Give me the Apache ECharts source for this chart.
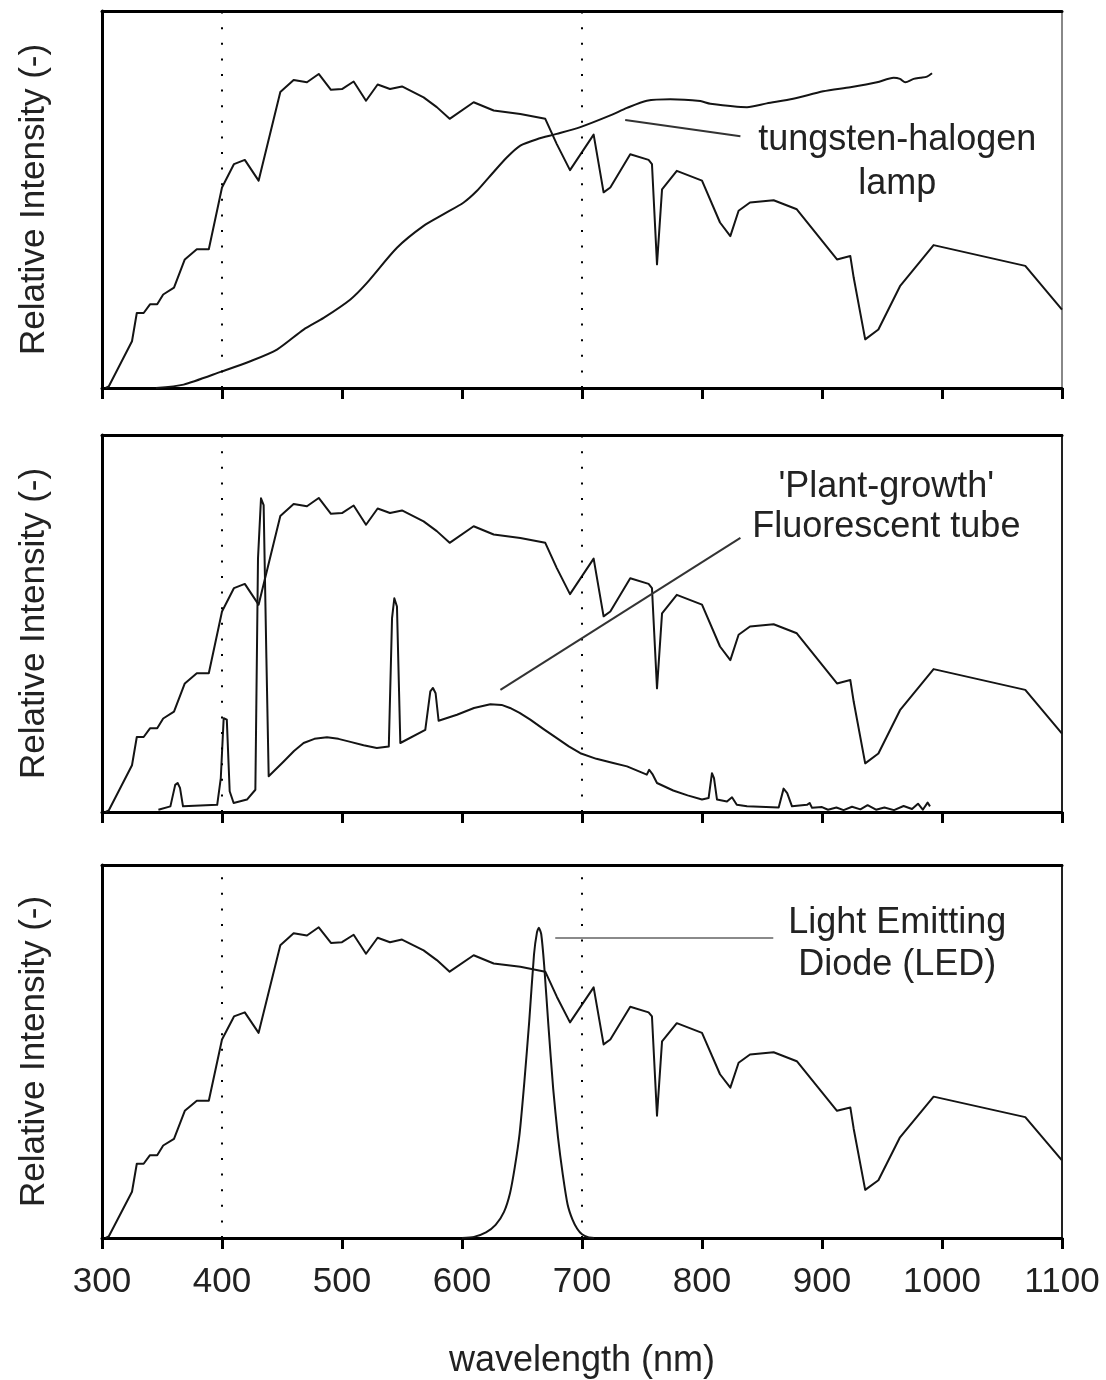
<!DOCTYPE html>
<html>
<head>
<meta charset="utf-8">
<script src="https://cdn.jsdelivr.net/npm/echarts@6/dist/echarts.min.js"></script>
<style>
  html, body { margin: 0; padding: 0; background: #fff; }
  #chart { width: 1106px; height: 1380px; }
</style>
</head>
<body>
<div id="chart"></div>
<script>
// Wavelength axis (nm)
const wlMin = 300;
const wlMax = 1100;
const wlStep = 100;

// Reference lines bounding the PAR band (nm)
const parBounds = [400, 700];

// Solar spectrum at ground level, relative intensity [nm, value]
const solarSpectrum = [
  [303, 0], [305.6, 0.4], [325, 12.4], [329, 19.9], [334.7, 19.9], [340, 22.2], [346, 22.2],
  [351, 24.8], [360, 26.6], [369, 34.1], [379, 36.8], [389, 36.8], [400, 53.2], [410, 59.4],
  [419, 60.5], [430.5, 55], [448.6, 78.5], [459.7, 81.7], [470.8, 81.1], [480.6, 83.3],
  [490.8, 79.1], [500, 79.3], [509.7, 81.3], [520, 76.2], [529.7, 80.5], [540, 79.3],
  [550, 80], [568, 77.1], [579, 74.5], [589.7, 71.4], [609.7, 75.8], [626.4, 73.6],
  [648.6, 72.7], [669.4, 71.4], [679, 64.7], [690, 57.8], [709.7, 67.2], [718, 51.9],
  [723.6, 53.2], [740.2, 62], [755.5, 60.5], [758.3, 59.4], [762.5, 32.8], [766.7, 52.7],
  [779, 57.6], [800, 55], [815, 43.9], [823.6, 40.3], [830.5, 47], [840, 49.2],
  [859.7, 49.8], [879, 47.4], [912.5, 34.1], [923.6, 35], [926.4, 29.3], [936, 12.9],
  [947, 15.5], [965, 27], [993, 37.9], [1069.4, 32.4], [1100, 20.8]
];

// Tungsten-halogen lamp emission [nm, value]
const halogenLamp = [
  [345, 0], [368, 0.9], [400, 4.4], [423.6, 7.1], [445.8, 10.2], [468, 15.5], [484.7, 18.6],
  [507, 23.5], [520.8, 27.9], [545.8, 37.2], [568, 43], [584.7, 46.1], [601.4, 49.2],
  [612.5, 52.3], [623.6, 56.3], [637.5, 61.2], [648.6, 64.3], [662.5, 66], [679, 67.4],
  [698.6, 69.2], [723.6, 72.3], [737.5, 74.3], [754, 76.2], [773.6, 76.6], [798.6, 76.1],
  [807, 75.4], [837.5, 74.5], [854, 75.5], [876, 76.7], [901, 78.7], [923.6, 79.8],
  [945.8, 81.1], [959.7, 82.3], [965, 82], [969.4, 81.1], [976.4, 82], [982, 82.3],
  [987.5, 82.6], [991.7, 83.5]
];

// 'Plant-growth' fluorescent tube emission [nm, value]
const fluorescentTube = [
  [347, 0.6], [357, 1.5], [361, 7.2], [363, 7.7], [365, 6.4], [367.5, 1.5], [396, 1.9],
  [399, 9], [401.4, 24.9], [404, 24.5], [406.4, 5.5], [409.7, 2.4], [420.8, 3.3],
  [427.8, 5.9], [430, 67.3], [432.5, 83.2], [434.7, 81.4], [437, 40.8], [438.9, 9.5],
  [451.4, 13.4], [460, 16.2], [468, 18.3], [477, 19.4], [487.5, 19.8], [497, 19.4],
  [507, 18.6], [518, 17.7], [529, 17], [539, 17.4],
  [541.7, 51.4], [543.6, 56.7], [545.8, 54.5], [548.6, 18.3], [569.4, 21.8], [573.6, 32],
  [575.8, 32.9], [578, 31.5], [580.5, 24.2], [595.8, 25.8], [610, 27.6], [623.6, 28.6],
  [633, 28.4], [640, 27.6], [648, 26.3], [656.9, 24.5], [668, 22], [679, 19.6],
  [689, 17.4], [698.6, 15.6], [712, 14.1], [726, 13], [737.5, 12.1], [754, 9.9],
  [756, 11.2], [759, 9.9], [762.5, 7.7], [776, 5.7], [788, 4.4], [800, 3.3], [805.5, 3.7],
  [808.3, 10.3], [810, 9], [812.5, 3.3], [820.8, 2.8], [825, 3.9], [829, 1.9],
  [837.5, 1.5], [863.9, 1.2], [868, 6.2], [871, 5], [875, 1.5], [887.5, 1.9],
  [889.7, 2.4], [891.7, 1.1], [900, 1.3], [905, 0.6], [912, 1.2], [918, 0.5],
  [925, 1.4], [932, 0.7], [938, 1.8], [945, 0.6], [952, 1.2], [960, 0.5], [968, 1.6],
  [975, 0.8], [980, 2.2], [984, 0.6], [988, 2.5], [990, 1.5]
];

// Red light emitting diode emission [nm, value]
const redLed = [
  [600, 0], [610, 0.3], [620, 1.5], [628, 3.5], [635, 7], [640, 12], [644, 19], [648, 28],
  [652, 42], [656, 58], [660, 76], [662.5, 82], [664, 83.2], [666, 81.5], [668.5, 73],
  [672, 57], [676, 40], [680, 27], [684, 17], [688, 9], [692, 5], [696, 2.5], [700, 1],
  [705, 0.2], [710, 0]
];

// Panel captions and leader lines, in data units of each panel
const captions = [
  { panel: 0, lines: ['tungsten-halogen', 'lamp'], at: [962.7, 65.8], step: 11.7,
    leader: [[736, 71.1], [832, 66.8]], leaderColor: '#333' },
  { panel: 1, lines: ["'Plant-growth'", 'Fluorescent tube'], at: [953.6, 86.2], step: 10.6,
    leader: [[632, 32.4], [832, 72.7]], leaderColor: '#333' },
  { panel: 2, lines: ['Light Emitting', 'Diode (LED)'], at: [962.7, 84.4], step: 11.2,
    leader: [[677.7, 80.6], [859.4, 80.6]], leaderColor: '#8a8a8a' }
];

// Per panel: reference spectrum plus the artificial source, and how smooth the source is drawn
const panelSeries = [
  { curves: [solarSpectrum, halogenLamp], smooth: 0.25 },
  { curves: [solarSpectrum, fluorescentTube], smooth: false },
  { curves: [solarSpectrum, redLed], smooth: 0.2 }
];

const FONT = '"Liberation Sans", Arial, Helvetica, sans-serif';
const INK = '#222';
const panelTops = [11, 435, 865];
const panelHeight = 377;

const grids = panelTops.map(t => ({ left: 102, top: t, width: 960, height: panelHeight }));

const xAxes = [];
const yAxes = [];
panelTops.forEach((t, i) => {
  const isLast = i === panelTops.length - 1;
  xAxes.push({
    gridIndex: i, type: 'value', min: wlMin, max: wlMax, interval: wlStep,
    axisLine: { onZero: false, lineStyle: { color: '#000', width: 3 } },
    axisTick: { show: true, inside: false, length: 11, lineStyle: { color: '#000', width: 3 } },
    axisLabel: { show: isLast, fontSize: 35, margin: 27, color: INK, fontFamily: FONT,
                 formatter: v => String(v) },
    splitLine: { show: false },
    name: isLast ? 'wavelength (nm)' : '',
    nameLocation: 'middle', nameGap: 105,
    nameTextStyle: { fontSize: 36, color: INK, fontFamily: FONT }
  });
  xAxes.push({
    gridIndex: i, type: 'value', min: wlMin, max: wlMax, position: 'top',
    axisLine: { onZero: false, lineStyle: { color: '#000', width: 3 } },
    axisTick: { show: false }, axisLabel: { show: false }, splitLine: { show: false }
  });
  yAxes.push({
    gridIndex: i, type: 'value', min: 0, max: 100,
    axisLine: { show: true, onZero: false, lineStyle: { color: '#000', width: 3 } },
    axisTick: { show: false }, axisLabel: { show: false }, splitLine: { show: false },
    name: 'Relative Intensity (-)', nameLocation: 'middle', nameRotate: 90, nameGap: 50,
    nameTextStyle: { fontSize: 35, color: INK, fontFamily: FONT }
  });
  yAxes.push({
    gridIndex: i, type: 'value', min: 0, max: 100, position: 'right',
    axisLine: { show: true, onZero: false, lineStyle: { color: i === 0 ? '#888' : '#222', width: 2 } },
    axisTick: { show: false }, axisLabel: { show: false }, splitLine: { show: false }
  });
});

const series = [];
panelSeries.forEach((panel, i) => {
  const cap = captions[i];
  panel.curves.forEach((data, k) => {
    const s = {
      type: 'line', xAxisIndex: 2 * i, yAxisIndex: 2 * i, data: data,
      showSymbol: false, symbol: 'none', silent: true,
      smooth: k === 0 ? false : panel.smooth,
      lineStyle: { color: '#141414', width: 2, join: 'round' }
    };
    if (k === 0) {
      s.markLine = {
        silent: true, symbol: 'none', animation: false,
        label: { show: false },
        lineStyle: { color: '#000', width: 2, type: [2, 13.6], cap: 'butt' },
        data: parBounds.map(v => ({ xAxis: v }))
      };
    } else {
      s.markLine = {
        silent: true, symbol: 'none', animation: false,
        label: { show: false },
        lineStyle: { color: cap.leaderColor, width: 2, type: 'solid' },
        data: [[{ coord: cap.leader[0] }, { coord: cap.leader[1] }]]
      };
    }
    series.push(s);
  });
});

const chart = echarts.init(document.getElementById('chart'), null, { renderer: 'canvas' });
chart.setOption({
  animation: false,
  backgroundColor: '#fff',
  grid: grids,
  xAxis: xAxes,
  yAxis: yAxes,
  series: series
});

// Caption text placed through each panel's own scales
const graphics = [];
captions.forEach(cap => {
  cap.lines.forEach((txt, j) => {
    const p = chart.convertToPixel({ gridIndex: cap.panel },
      [cap.at[0], cap.at[1] - j * cap.step]);
    graphics.push({
      type: 'text', x: p[0], y: p[1], silent: true,
      style: { text: txt, fontSize: 36, fontFamily: FONT, fill: INK,
               align: 'center', verticalAlign: 'middle' }
    });
  });
});
chart.setOption({ graphic: graphics });
</script>
</body>
</html>
